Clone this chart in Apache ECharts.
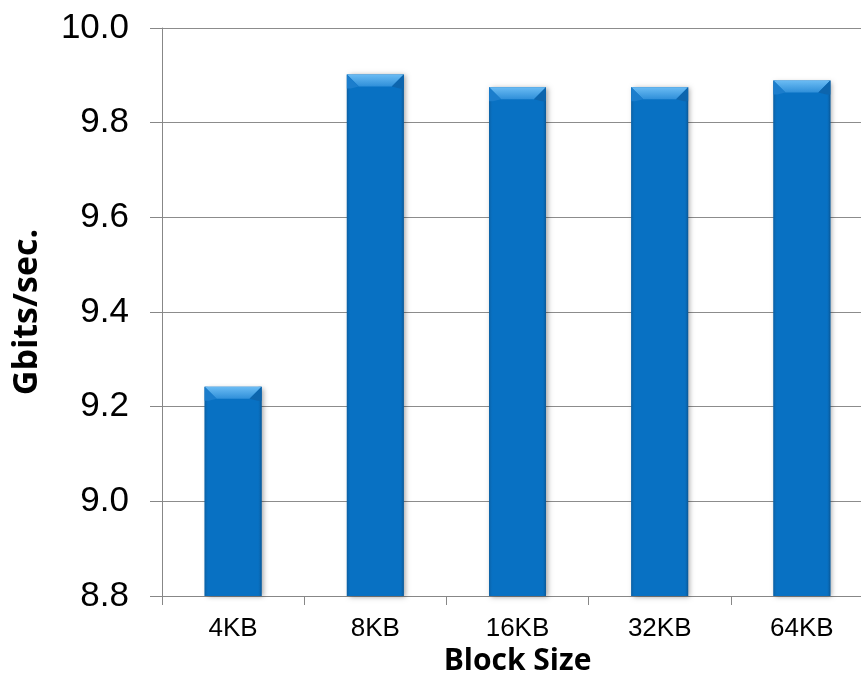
<!DOCTYPE html>
<html>
<head>
<meta charset="utf-8">
<script src="https://cdn.jsdelivr.net/npm/echarts@6/dist/echarts.min.js"></script>
<style>
  html, body { margin: 0; padding: 0; background: #fff; }
  #chart { width: 861px; height: 675px; }
</style>
</head>
<body>
<div id="chart"></div>
<script>
// Throughput by block size
const categories = ['4KB', '8KB', '16KB', '32KB', '64KB'];
const throughput = [9.242, 9.902, 9.875, 9.875, 9.889];
const yTicks = { min: 8.8, max: 10.0, step: 0.2 };

const chart = echarts.init(document.getElementById('chart'));

// Beveled column: body, lighter top facet and soft shading on the sides
function renderBevelBar(params, api) {
  const idx = api.value(0);
  const top = api.coord([idx, api.value(1)]);
  const base = api.coord([idx, yTicks.min]);
  const bw = api.size([1, 0])[0] * 0.4;
  const x0 = top[0] - bw / 2;
  const y0 = top[1];
  const h = base[1] - y0;
  const bev = Math.min(12, h);
  const side = 4;
  return {
    type: 'group',
    children: [
      {
        type: 'rect',
        shape: { x: x0, y: y0, width: bw, height: h },
        style: {
          fill: '#0871c3',
          shadowBlur: 5,
          shadowOffsetX: 2,
          shadowOffsetY: 1,
          shadowColor: 'rgba(0,0,0,0.35)'
        }
      },
      {
        type: 'rect',
        shape: { x: x0, y: y0, width: side, height: h },
        style: {
          fill: new echarts.graphic.LinearGradient(0, 0, 1, 0, [
            { offset: 0, color: '#0d5e9f' },
            { offset: 1, color: 'rgba(8,113,195,0)' }
          ])
        }
      },
      {
        type: 'rect',
        shape: { x: x0 + bw - side, y: y0, width: side, height: h },
        style: {
          fill: new echarts.graphic.LinearGradient(0, 0, 1, 0, [
            { offset: 0, color: 'rgba(8,113,195,0)' },
            { offset: 1, color: '#0a5592' }
          ])
        }
      },
      {
        type: 'polygon',
        shape: {
          points: [
            [x0, y0], [x0 + bw, y0],
            [x0 + bw - bev, y0 + bev], [x0 + bev, y0 + bev]
          ]
        },
        style: {
          fill: new echarts.graphic.LinearGradient(0, 0, 0, 1, [
            { offset: 0, color: '#6bbcf4' },
            { offset: 1, color: '#2f8fd9' }
          ])
        }
      },
      {
        type: 'polygon',
        shape: {
          points: [[x0, y0], [x0 + bev, y0 + bev], [x0 + side, y0 + bev + 2], [x0, y0 + bev + 2]]
        },
        style: { fill: '#1b7dcc' }
      },
      {
        type: 'polygon',
        shape: {
          points: [[x0 + bw, y0], [x0 + bw - bev, y0 + bev], [x0 + bw - side, y0 + bev + 2], [x0 + bw, y0 + bev + 2]]
        },
        style: { fill: '#0d65ad' }
      }
    ]
  };
}

chart.setOption({
  animation: false,
  backgroundColor: '#ffffff',
  grid: { left: 162, right: -12, top: 28, bottom: 79, containLabel: false, outerBoundsMode: 'none' },
  xAxis: {
    type: 'category',
    data: categories,
    name: 'Block Size',
    nameLocation: 'middle',
    nameGap: 50,
    nameTextStyle: { fontFamily: 'Open Sans', fontWeight: 'bold', fontSize: 30, color: '#000' },
    axisLine: { lineStyle: { color: '#878787', width: 1 } },
    axisTick: { show: true, alignWithLabel: false, length: 9, lineStyle: { color: '#878787' } },
    axisLabel: { fontFamily: 'Liberation Sans', fontSize: 26, color: '#000', margin: 20 },
    splitLine: { show: false }
  },
  yAxis: {
    type: 'value',
    min: yTicks.min,
    max: yTicks.max,
    interval: yTicks.step,
    name: 'Gbits/sec.',
    nameLocation: 'middle',
    nameGap: 118,
    nameRotate: 90,
    nameTextStyle: { fontFamily: 'Open Sans', fontWeight: 'bold', fontSize: 34, color: '#000' },
    axisLine: { show: true, lineStyle: { color: '#878787', width: 1 } },
    axisTick: { show: true, length: 12, lineStyle: { color: '#878787' } },
    axisLabel: {
      fontFamily: 'Liberation Sans', fontSize: 35, color: '#000', margin: 33,
      formatter: v => v.toFixed(1)
    },
    splitLine: { show: true, lineStyle: { color: '#8c8c8c', width: 1 } }
  },
  series: [{
    type: 'custom',
    renderItem: renderBevelBar,
    encode: { x: 0, y: 1 },
    data: categories.map((c, i) => [i, throughput[i]])
  }]
});
</script>
</body>
</html>
